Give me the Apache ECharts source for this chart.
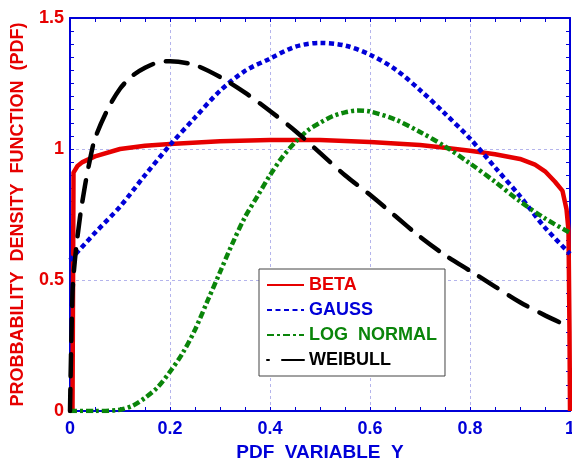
<!DOCTYPE html>
<html>
<head>
<meta charset="utf-8">
<script src="https://cdn.jsdelivr.net/npm/echarts@6/dist/echarts.min.js"></script>
<style>
  html, body { margin: 0; padding: 0; background: #fff; }
  #chart { width: 572px; height: 458px; }
</style>
</head>
<body>
<div id="chart"></div>
<script>
// values, [x, pdf]
const betaPoints = [
  [0.005, 0], [0.007, 0.91], [0.015, 0.935], [0.025, 0.95], [0.05, 0.972],
  [0.1, 1.0], [0.15, 1.012], [0.2, 1.019], [0.3, 1.03], [0.4, 1.034],
  [0.5, 1.034], [0.6, 1.027], [0.7, 1.015], [0.75, 1.005], [0.8, 0.993],
  [0.85, 0.98], [0.9, 0.962], [0.93, 0.94], [0.95, 0.915], [0.97, 0.875],
  [0.985, 0.84], [0.993, 0.77], [0.997, 0.69], [0.999, 0.3], [1.0, 0]
];
const gaussPoints = [
  [0, 0.575], [0.05, 0.68], [0.1, 0.78], [0.15, 0.9], [0.2, 1.015],
  [0.25, 1.12], [0.3, 1.222], [0.35, 1.298], [0.4, 1.345], [0.45, 1.39],
  [0.5, 1.405], [0.55, 1.395], [0.6, 1.36], [0.65, 1.305], [0.7, 1.225],
  [0.75, 1.135], [0.8, 1.04], [0.85, 0.93], [0.9, 0.82], [0.95, 0.7],
  [1.0, 0.6]
];
const logNormalPoints = [
  [0, 0], [0.05, 0], [0.1, 0.005], [0.125, 0.02], [0.15, 0.05],
  [0.175, 0.09], [0.2, 0.15], [0.225, 0.22], [0.25, 0.31], [0.275, 0.42],
  [0.3, 0.53], [0.325, 0.64], [0.35, 0.74], [0.375, 0.82], [0.4, 0.9],
  [0.425, 0.97], [0.45, 1.025], [0.475, 1.07], [0.5, 1.1], [0.525, 1.125],
  [0.55, 1.14], [0.575, 1.147], [0.6, 1.143], [0.65, 1.113], [0.7, 1.065],
  [0.75, 1.01], [0.8, 0.945], [0.85, 0.875], [0.9, 0.8], [0.95, 0.735],
  [1.0, 0.68]
];
const weibullPoints = [
  [0, 0], [0.005, 0.45], [0.01, 0.58], [0.02, 0.74], [0.03, 0.86],
  [0.04, 0.96], [0.05, 1.04], [0.075, 1.15], [0.1, 1.23], [0.125, 1.28],
  [0.15, 1.31], [0.175, 1.33], [0.2, 1.335], [0.25, 1.32], [0.3, 1.275],
  [0.35, 1.215], [0.4, 1.145], [0.45, 1.07], [0.5, 0.985], [0.55, 0.9],
  [0.6, 0.825], [0.65, 0.745], [0.7, 0.665], [0.75, 0.595], [0.8, 0.535],
  [0.85, 0.475], [0.9, 0.415], [0.95, 0.365], [1.0, 0.32]
];
const seriesNames = ["BETA", "GAUSS", "LOG  NORMAL", "WEIBULL"];

const RED = "#e60000";
const BLUE = "#0000d8";
const GREEN = "#0a850a";
const BLACK = "#000000";
const FONT = "Liberation Sans, Arial, sans-serif";

const chart = echarts.init(document.getElementById("chart"), null, { renderer: "canvas" });

const axisLine = { show: true, onZero: false, lineStyle: { color: BLUE, width: 2 } };
const tick = { show: true, inside: true, length: 4, lineStyle: { color: BLUE, width: 1 } };
const gridLine = { show: true, lineStyle: { color: "#b4b4ec", width: 1, type: [3, 3] } };

chart.setOption({
  animation: false,
  backgroundColor: "#fff",
  grid: { left: 70, right: 2, top: 18, bottom: 47, containLabel: false, outerBoundsMode: "none" },
  legend: {
    orient: "vertical",
    left: 259,
    top: 269,
    padding: [7, 8, 7, 7],
    itemWidth: 37,
    itemHeight: 14,
    itemGap: 7,
    backgroundColor: "#fff",
    borderColor: "#444",
    borderWidth: 1,
    borderRadius: 0,
    selectedMode: false,
    itemStyle: { opacity: 0 },
    data: [
      { name: seriesNames[0], textStyle: { color: RED } },
      { name: seriesNames[1], textStyle: { color: BLUE } },
      { name: seriesNames[2], textStyle: { color: GREEN } },
      { name: seriesNames[3], textStyle: { color: BLACK }, lineStyle: { dashOffset: 20 } }
    ],
    textStyle: { fontFamily: FONT, fontWeight: "bold", fontSize: 18, lineHeight: 18 }
  },
  xAxis: [
    {
      type: "value", min: 0, max: 1, interval: 0.2, position: "bottom",
      name: "PDF  VARIABLE  Y", nameLocation: "middle", nameGap: 27,
      nameTextStyle: { color: BLUE, fontFamily: FONT, fontWeight: "bold", fontSize: 19 },
      axisLine, axisTick: tick,
      minorTick: { show: true, splitNumber: 4, length: 4, lineStyle: { color: BLUE, width: 1 } },
      axisLabel: { color: BLUE, fontFamily: FONT, fontWeight: "bold", fontSize: 18, margin: 9 },
      splitLine: gridLine
    },
    {
      type: "value", min: 0, max: 1, interval: 0.2, position: "top",
      axisLine, axisTick: tick,
      minorTick: { show: true, splitNumber: 4, length: 4, lineStyle: { color: BLUE, width: 1 } },
      axisLabel: { show: false }, splitLine: { show: false }
    }
  ],
  yAxis: [
    {
      type: "value", min: 0, max: 1.5, interval: 0.5, position: "left",
      name: "PROBBABILITY  DENSITY  FUNCTION  (PDF)", nameLocation: "middle", nameGap: 43,
      nameTextStyle: { color: RED, fontFamily: FONT, fontWeight: "bold", fontSize: 18 },
      axisLine, axisTick: tick,
      minorTick: { show: true, splitNumber: 10, length: 4, lineStyle: { color: BLUE, width: 1 } },
      axisLabel: { color: RED, fontFamily: FONT, fontWeight: "bold", fontSize: 18, margin: 6 },
      splitLine: gridLine
    },
    {
      type: "value", min: 0, max: 1.5, interval: 0.5, position: "right",
      axisLine, axisTick: tick,
      minorTick: { show: true, splitNumber: 10, length: 4, lineStyle: { color: BLUE, width: 1 } },
      axisLabel: { show: false }, splitLine: { show: false }
    }
  ],
  series: [
    {
      name: seriesNames[0], type: "line", data: betaPoints, symbol: "none",
      color: RED, lineStyle: { color: RED, width: 4.5 }
    },
    {
      name: seriesNames[1], type: "line", data: gaussPoints, symbol: "none", smooth: 0.3,
      color: BLUE, lineStyle: { color: BLUE, width: 4.5, type: [5, 3.5] }
    },
    {
      name: seriesNames[2], type: "line", data: logNormalPoints, symbol: "none", smooth: 0.3,
      color: GREEN, lineStyle: { color: GREEN, width: 4.5, type: [7, 3, 3, 3] }
    },
    {
      name: seriesNames[3], type: "line", data: weibullPoints, symbol: "none", smooth: 0.3,
      color: BLACK, lineStyle: { color: BLACK, width: 4.5, type: [22, 13], cap: "round" }
    }
  ]
});
</script>
</body>
</html>
